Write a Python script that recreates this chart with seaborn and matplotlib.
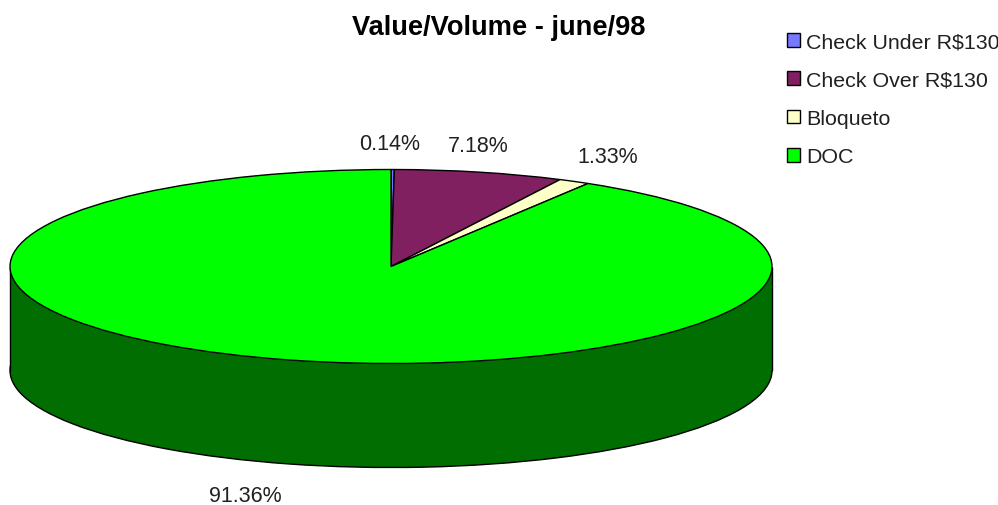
import matplotlib
matplotlib.use('Agg')
import matplotlib.pyplot as plt
from matplotlib.patches import Patch
import seaborn as sns

categories = ['Check Under R$130', 'Check Over R$130', 'Bloqueto', 'DOC']
values = [0.14, 7.18, 1.33, 91.36]
value_labels = ['0.14%', '7.18%', '1.33%', '91.36%']
title = 'Value/Volume - june/98'

top_colors = ['#7777ff', '#802060', '#ffffc8', '#00ff00']
side_colors = ['#3c3c80', '#401030', '#808064', '#006e00']

sns.set_theme(style='white')
plt.rcParams['font.family'] = ['Liberation Sans', 'DejaVu Sans']

W, H = 998, 506
# pie geometry in pixels of the picture
cx, cy, rx, ry, depth_px = 391, 267.5, 381, 97, 104
depth = depth_px / ry


def fig_xy(x, y):
    return x / W, 1 - y / H


fig = plt.figure(figsize=(W / 100, H / 100), dpi=100)
ax = fig.add_axes([0, 0, 1, 1])

edge = {'edgecolor': 'black', 'linewidth': 1.0}
palette = sns.color_palette(top_colors)
dark = sns.color_palette(side_colors)

# bottom of the disc, then the wall, then the top face
ax.pie(values, colors=dark, startangle=90, counterclock=False, radius=1,
       center=(0, -depth), wedgeprops={**edge, 'zorder': 1})
ax.bar(0, depth, width=2, bottom=-depth, color=side_colors[3], linewidth=0, zorder=2)
ax.vlines([-1, 1], -depth, 0, color='black', linewidth=1.0, zorder=3)
ax.pie(values, colors=palette, startangle=90, counterclock=False, radius=1,
       center=(0, 0), wedgeprops={**edge, 'zorder': 4})

ax.set_aspect('auto')
ax.set_xlim(-cx / rx, (W - cx) / rx)
ax.set_ylim(-(H - cy) / ry, cy / ry)
ax.axis('off')

label_pos = [(390, 144), (478, 146), (608, 158), (245, 497)]
for lab, (x, y) in zip(value_labels, label_pos):
    fx, fy = fig_xy(x, y)
    fig.text(fx, fy, lab, ha='center', va='center', fontsize=15.5, color='#202020')

fx, fy = fig_xy(499, 28)
fig.text(fx, fy, title, ha='center', va='center', fontsize=19.6, fontweight='bold', color='black')

handles = [Patch(facecolor=c, edgecolor='black', linewidth=1.0) for c in top_colors]
ax.legend(handles, categories, loc='upper left', bbox_to_anchor=fig_xy(787, 33.5),
          bbox_transform=fig.transFigure, frameon=False, fontsize=15.4,
          handlelength=0.6, handleheight=0.6, handletextpad=0.3,
          labelspacing=0.9, borderpad=0, borderaxespad=0, labelcolor='#202020')

fig.savefig('out.png', dpi=100)
